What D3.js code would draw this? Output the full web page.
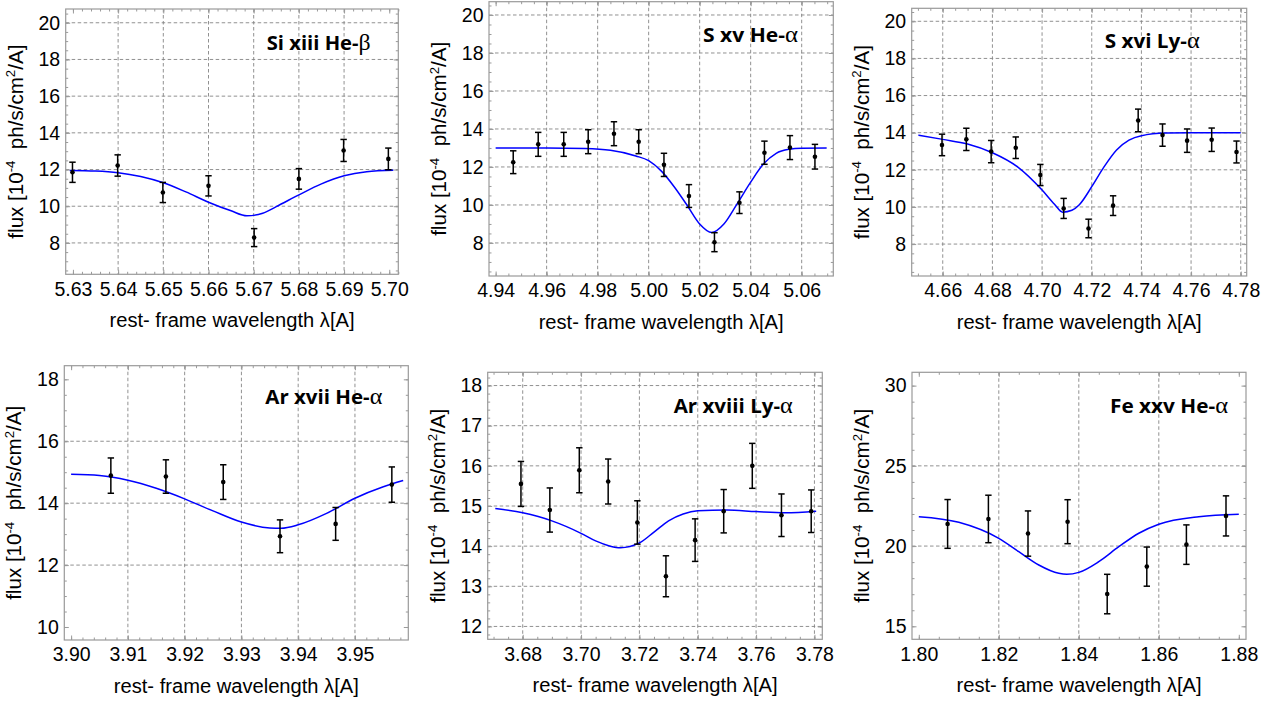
<!DOCTYPE html>
<html>
<head>
<meta charset="utf-8">
<title>Line fits</title>
<style type="text/css">
body { margin:0; background:#fff; }
.frame { fill:none; stroke:#9a9a9a; stroke-width:1.2px; }
.axis path.domain { display:none; }
.axis line { stroke:#9a9a9a; stroke-width:1px; }
.axis text { font-family:"Liberation Sans", Arial, sans-serif; font-size:19.5px; fill:#000; }
.grid line { stroke:#858585; stroke-width:0.9px; stroke-dasharray:3.5,2.5; }
.fit { fill:none; stroke:#0000ff; stroke-width:1.5px; }
.err line { stroke:#000; stroke-width:1.5px; }
.dot { fill:#000; }
.xlabel, .ylabel { font-family:"Liberation Sans", Arial, sans-serif; font-size:19.5px; fill:#000; }
.title { font-family:"Open Sans", sans-serif; font-weight:bold; font-size:19.5px; fill:#000; }
.greek { font-family:"Liberation Serif", serif; font-weight:normal; font-size:23px; }
</style>
</head>
<body>
<div id="chart"></div>
<script src="https://cdn.jsdelivr.net/npm/d3@7"></script>
<script>

// Si xiii He-beta
var siWave = [5.6299, 5.6399, 5.6499, 5.6600, 5.6701, 5.6800, 5.6899, 5.6998];
var siFlux = [11.85, 12.22, 10.75, 11.11, 8.29, 11.49, 13.04, 12.58];
var siErr  = [0.55, 0.58, 0.55, 0.55, 0.49, 0.56, 0.60, 0.59];
var siFitWave = [5.6293, 5.635, 5.640, 5.645, 5.650, 5.655, 5.660, 5.665, 5.6685, 5.672, 5.675, 5.680, 5.685, 5.690, 5.695, 5.7009];
var siFitFlux = [11.95, 11.92, 11.83, 11.62, 11.28, 10.78, 10.22, 9.75, 9.48, 9.62, 9.98, 10.62, 11.22, 11.66, 11.88, 11.96];

// S xv He-alpha
var sxvWave = [4.9469, 4.9567, 4.9667, 4.9763, 4.9864, 4.9961, 5.0060, 5.0158, 5.0258, 5.0356, 5.0454, 5.0554, 5.0652];
var sxvFlux = [12.25, 13.19, 13.19, 13.33, 13.75, 13.33, 12.11, 10.47, 8.04, 10.12, 12.75, 13.02, 12.54];
var sxvErr  = [0.60, 0.63, 0.63, 0.63, 0.63, 0.63, 0.61, 0.60, 0.50, 0.57, 0.61, 0.63, 0.65];
var sxvFitWave = [4.940, 4.960, 4.975, 4.985, 4.995, 5.000, 5.005, 5.010, 5.015, 5.020, 5.0247, 5.0295, 5.0345, 5.040, 5.045, 5.050, 5.055, 5.060, 5.0698];
var sxvFitFlux = [13.0, 13.0, 12.97, 12.88, 12.58, 12.33, 11.78, 10.96, 10.0, 9.0, 8.55, 9.0, 10.02, 11.2, 12.15, 12.72, 12.93, 12.99, 13.0];

// S xvi Ly-alpha
var sxviWave = [4.6597, 4.6695, 4.6795, 4.6894, 4.6993, 4.7087, 4.7187, 4.7286, 4.7387, 4.7485, 4.7584, 4.7683, 4.7783];
var sxviFlux = [13.34, 13.64, 12.98, 13.19, 11.72, 9.92, 8.84, 10.07, 14.66, 13.87, 13.57, 13.62, 12.96];
var sxviErr  = [0.58, 0.60, 0.60, 0.58, 0.57, 0.54, 0.50, 0.53, 0.61, 0.60, 0.63, 0.63, 0.59];
var sxviFitWave = [4.6502, 4.660, 4.670, 4.680, 4.690, 4.700, 4.705, 4.7083, 4.712, 4.715, 4.720, 4.725, 4.730, 4.735, 4.740, 4.750, 4.760, 4.7800];
var sxviFitFlux = [13.87, 13.64, 13.39, 12.92, 12.17, 10.91, 10.15, 9.72, 9.82, 10.12, 11.09, 12.17, 13.07, 13.6, 13.84, 13.98, 14.0, 14.0];

// Ar xvii He-alpha
var arxviiWave = [3.9070, 3.9167, 3.9268, 3.9368, 3.9466, 3.9565];
var arxviiFlux = [14.89, 14.86, 14.68, 12.93, 13.33, 14.60];
var arxviiErr  = [0.57, 0.54, 0.56, 0.53, 0.53, 0.57];
var arxviiFitWave = [3.9000, 3.905, 3.910, 3.915, 3.920, 3.925, 3.930, 3.935, 3.937, 3.940, 3.945, 3.950, 3.955, 3.9585];
var arxviiFitFlux = [14.93, 14.89, 14.74, 14.48, 14.14, 13.75, 13.39, 13.2, 13.19, 13.3, 13.67, 14.16, 14.53, 14.73];

// Ar xviii Ly-alpha
var arxviiiWave = [3.6794, 3.6893, 3.6994, 3.7093, 3.7193, 3.7291, 3.7391, 3.7489, 3.7587, 3.7687, 3.7789];
var arxviiiFlux = [15.55, 14.90, 15.89, 15.61, 14.59, 13.25, 14.15, 14.87, 16.00, 14.77, 14.87];
var arxviiiErr  = [0.56, 0.55, 0.56, 0.56, 0.54, 0.51, 0.53, 0.54, 0.56, 0.53, 0.53];
var arxviiiFitWave = [3.6706, 3.680, 3.690, 3.700, 3.705, 3.710, 3.7135, 3.720, 3.725, 3.730, 3.735, 3.740, 3.750, 3.760, 3.770, 3.7806];
var arxviiiFitFlux = [14.94, 14.83, 14.63, 14.32, 14.13, 14.0, 13.96, 14.08, 14.35, 14.63, 14.8, 14.88, 14.9, 14.86, 14.83, 14.87];

// Fe xxv He-alpha
var fexxvWave = [1.8072, 1.8174, 1.8273, 1.8372, 1.8471, 1.8570, 1.8669, 1.8768];
var fexxvFlux = [21.38, 21.69, 20.78, 21.52, 17.01, 18.72, 20.09, 21.88];
var fexxvErr  = [1.52, 1.48, 1.41, 1.37, 1.23, 1.22, 1.23, 1.25];
var fexxvFitWave = [1.800, 1.810, 1.820, 1.825, 1.830, 1.835, 1.837, 1.840, 1.845, 1.850, 1.855, 1.860, 1.870, 1.880];
var fexxvFitFlux = [21.83, 21.48, 20.48, 19.65, 18.82, 18.3, 18.24, 18.36, 19.03, 19.96, 20.8, 21.36, 21.83, 21.98];

// titles, ticks and grid lines
var titleText  = ["Si xiii He-", "S xv He-", "S xvi Ly-", "Ar xvii He-", "Ar xviii Ly-", "Fe xxv He-"];
var titleGreek = ["\u03b2", "\u03b1", "\u03b1", "\u03b1", "\u03b1", "\u03b1"];

var siXTicks = [5.63, 5.64, 5.65, 5.66, 5.67, 5.68, 5.69, 5.70];
var sxvXTicks = [4.94, 4.96, 4.98, 5.00, 5.02, 5.04, 5.06];
var sxviXTicks = [4.66, 4.68, 4.70, 4.72, 4.74, 4.76, 4.78];
var arxviiXTicks = [3.90, 3.91, 3.92, 3.93, 3.94, 3.95];
var arxviiiXTicks = [3.68, 3.70, 3.72, 3.74, 3.76, 3.78];
var fexxvXTicks = [1.80, 1.82, 1.84, 1.86, 1.88];
var topYTicks = [8, 10, 12, 14, 16, 18, 20];
var arxviiYTicks = [10, 12, 14, 16, 18];
var arxviiiYTicks = [12, 13, 14, 15, 16, 17, 18];
var fexxvYTicks = [15, 20, 25, 30];

var siXGrid = [5.64, 5.65, 5.66, 5.67, 5.68, 5.69];
var sxvXGrid = [4.96, 4.98, 5.00, 5.02, 5.04, 5.06];
var sxviXGrid = [4.66, 4.68, 4.70, 4.72, 4.74, 4.76, 4.78];
var arxviiXGrid = [3.91, 3.92, 3.93, 3.94, 3.95];
var arxviiiXGrid = [3.68, 3.70, 3.72, 3.74, 3.76, 3.78];
var fexxvXGrid = [1.82, 1.84, 1.86];
var arxviiYGrid = [12, 14, 16];
var fexxvYGrid = [20, 25];

var panels = [
	{wave:siWave, flux:siFlux, err:siErr, fitWave:siFitWave, fitFlux:siFitFlux, xTicks:siXTicks, yTicks:topYTicks, xGrid:siXGrid, yGrid:topYTicks},
	{wave:sxvWave, flux:sxvFlux, err:sxvErr, fitWave:sxvFitWave, fitFlux:sxvFitFlux, xTicks:sxvXTicks, yTicks:topYTicks, xGrid:sxvXGrid, yGrid:topYTicks},
	{wave:sxviWave, flux:sxviFlux, err:sxviErr, fitWave:sxviFitWave, fitFlux:sxviFitFlux, xTicks:sxviXTicks, yTicks:topYTicks, xGrid:sxviXGrid, yGrid:topYTicks},
	{wave:arxviiWave, flux:arxviiFlux, err:arxviiErr, fitWave:arxviiFitWave, fitFlux:arxviiFitFlux, xTicks:arxviiXTicks, yTicks:arxviiYTicks, xGrid:arxviiXGrid, yGrid:arxviiYGrid},
	{wave:arxviiiWave, flux:arxviiiFlux, err:arxviiiErr, fitWave:arxviiiFitWave, fitFlux:arxviiiFitFlux, xTicks:arxviiiXTicks, yTicks:arxviiiYTicks, xGrid:arxviiiXGrid, yGrid:arxviiiYTicks},
	{wave:fexxvWave, flux:fexxvFlux, err:fexxvErr, fitWave:fexxvFitWave, fitFlux:fexxvFitFlux, xTicks:fexxvXTicks, yTicks:fexxvYTicks, xGrid:fexxvXGrid, yGrid:fexxvYGrid}
];

// layout: frame box [left, top, right, bottom], plot ranges, minor tick steps, title offset and width
var boxes = [[65.7, 9, 398.3, 274.3], [489, 1.7, 833.3, 276], [911.7, 8.3, 1246.7, 276],
	[64.3, 365.7, 408.3, 640], [487.7, 372.3, 822.3, 639.3], [912, 372.3, 1246, 639.3]];
var xDomains = [[5.6284, 5.7020], [4.9374, 5.0724], [4.6475, 4.7824], [3.8988, 3.9594], [3.6680, 3.7827], [1.7983, 1.8818]];
var yDomains = [[6.29, 20.75], [6.26, 20.70], [6.28, 20.70], [9.58, 18.44], [11.68, 18.33], [14.19, 30.83]];
var minorX = [0.002, 0.005, 0.005, 0.002, 0.005, 0.005];
var minorY = [0.5, 0.5, 0.5, 0.5, 0.2, 1];
var titlePos = [[201, 41], [214, 40], [193, 40], [201, 38], [186, 41], [198, 41]];
var titleWidth = [104, 95, 95, 117, 119, 118];

var svg = d3.select("#chart").append("svg")
	.attr("width", 1283)
	.attr("height", 706);

var fmt2 = d3.format(".2f");

function minorTicks(domain, step){
	var start = Math.ceil(domain[0]/step - 1e-6)*step;
	return d3.range(start, domain[1], step);
}

panels.forEach(function(p, i){
	var b = boxes[i];
	var x = d3.scaleLinear().domain(xDomains[i]).range([b[0], b[2]]);
	var y = d3.scaleLinear().domain(yDomains[i]).range([b[3], b[1]]);
	var w = b[2]-b[0], h = b[3]-b[1];

	var g = svg.append("g").attr("class","panel");

	// grid
	var grid = g.append("g").attr("class","grid");
	grid.selectAll(".gx").data(p.xGrid).enter().append("line")
		.attr("x1", function(d){ return x(d); }).attr("x2", function(d){ return x(d); })
		.attr("y1", b[1]).attr("y2", b[3]);
	grid.selectAll(".gy").data(p.yGrid).enter().append("line")
		.attr("y1", function(d){ return y(d); }).attr("y2", function(d){ return y(d); })
		.attr("x1", b[0]).attr("x2", b[2]);

	// ticks, inward on all four sides
	var xMinor = minorTicks(xDomains[i], minorX[i]);
	var yMinor = minorTicks(yDomains[i], minorY[i]);

	g.append("g").attr("class","axis")
		.attr("transform","translate(0,"+b[3]+")")
		.call(d3.axisBottom(x).tickValues(xMinor).tickSize(-2.5).tickFormat(""));
	g.append("g").attr("class","axis")
		.attr("transform","translate(0,"+b[1]+")")
		.call(d3.axisTop(x).tickValues(xMinor).tickSize(-2.5).tickFormat(""));
	g.append("g").attr("class","axis")
		.attr("transform","translate("+b[0]+",0)")
		.call(d3.axisLeft(y).tickValues(yMinor).tickSize(-2.5).tickFormat(""));
	g.append("g").attr("class","axis")
		.attr("transform","translate("+b[2]+",0)")
		.call(d3.axisRight(y).tickValues(yMinor).tickSize(-2.5).tickFormat(""));

	g.append("g").attr("class","axis")
		.attr("transform","translate(0,"+b[3]+")")
		.call(d3.axisBottom(x).tickValues(p.xTicks).tickSize(-4.5).tickPadding(7.5).tickFormat(fmt2));
	g.append("g").attr("class","axis")
		.attr("transform","translate(0,"+b[1]+")")
		.call(d3.axisTop(x).tickValues(p.xTicks).tickSize(-4.5).tickFormat(""));
	g.append("g").attr("class","axis")
		.attr("transform","translate("+b[0]+",0)")
		.call(d3.axisLeft(y).tickValues(p.yTicks).tickSize(-4.5).tickPadding(5.5).tickFormat(d3.format("d")));
	g.append("g").attr("class","axis")
		.attr("transform","translate("+b[2]+",0)")
		.call(d3.axisRight(y).tickValues(p.yTicks).tickSize(-4.5).tickFormat(""));

	g.append("rect").attr("class","frame")
		.attr("x", b[0]).attr("y", b[1]).attr("width", w).attr("height", h);

	// fit curve
	var line = d3.line()
		.x(function(d){ return x(d[0]); })
		.y(function(d){ return y(d[1]); })
		.curve(d3.curveMonotoneX);
	g.append("path").attr("class","fit")
		.attr("d", line(d3.zip(p.fitWave, p.fitFlux)));

	// data with error bars
	var pts = d3.zip(p.wave, p.flux, p.err);
	var eb = g.selectAll(".err").data(pts).enter().append("g").attr("class","err");
	eb.append("line")
		.attr("x1", function(d){ return x(d[0]); }).attr("x2", function(d){ return x(d[0]); })
		.attr("y1", function(d){ return y(d[1]-d[2]); }).attr("y2", function(d){ return y(d[1]+d[2]); });
	eb.append("line")
		.attr("x1", function(d){ return x(d[0])-3.2; }).attr("x2", function(d){ return x(d[0])+3.2; })
		.attr("y1", function(d){ return y(d[1]+d[2]); }).attr("y2", function(d){ return y(d[1]+d[2]); });
	eb.append("line")
		.attr("x1", function(d){ return x(d[0])-3.2; }).attr("x2", function(d){ return x(d[0])+3.2; })
		.attr("y1", function(d){ return y(d[1]-d[2]); }).attr("y2", function(d){ return y(d[1]-d[2]); });
	g.selectAll(".dot").data(pts).enter().append("circle").attr("class","dot")
		.attr("cx", function(d){ return x(d[0]); })
		.attr("cy", function(d){ return y(d[1]); })
		.attr("r", 2.3);

	// labels
	g.append("text").attr("class","xlabel")
		.attr("x", (b[0]+b[2])/2).attr("y", b[3]+52.5)
		.attr("text-anchor","middle")
		.attr("textLength", 245).attr("lengthAdjust","spacingAndGlyphs")
		.text("rest- frame wavelength \u03bb[A]");

	var yl = g.append("text").attr("class","ylabel")
		.attr("text-anchor","middle")
		.attr("textLength", 194).attr("lengthAdjust","spacingAndGlyphs")
		.attr("transform","translate("+(b[0]-43)+","+((b[1]+b[3])/2)+") rotate(-90)");
	yl.append("tspan").text("flux [10");
	yl.append("tspan").attr("dy",-7.5).attr("font-size","12.5px").text("-4");
	yl.append("tspan").attr("dy",7.5).text("\u00a0 ph/s/cm");
	yl.append("tspan").attr("dy",-7.5).attr("font-size","12.5px").text("2");
	yl.append("tspan").attr("dy",7.5).text("/A]");

	var t = g.append("text").attr("class","title")
		.attr("x", b[0]+titlePos[i][0]).attr("y", b[1]+titlePos[i][1])
		.attr("textLength", titleWidth[i]).attr("lengthAdjust","spacingAndGlyphs");
	t.append("tspan").text(titleText[i]);
	t.append("tspan").attr("class","greek").text(titleGreek[i]);
});

</script>
</body>
</html>
